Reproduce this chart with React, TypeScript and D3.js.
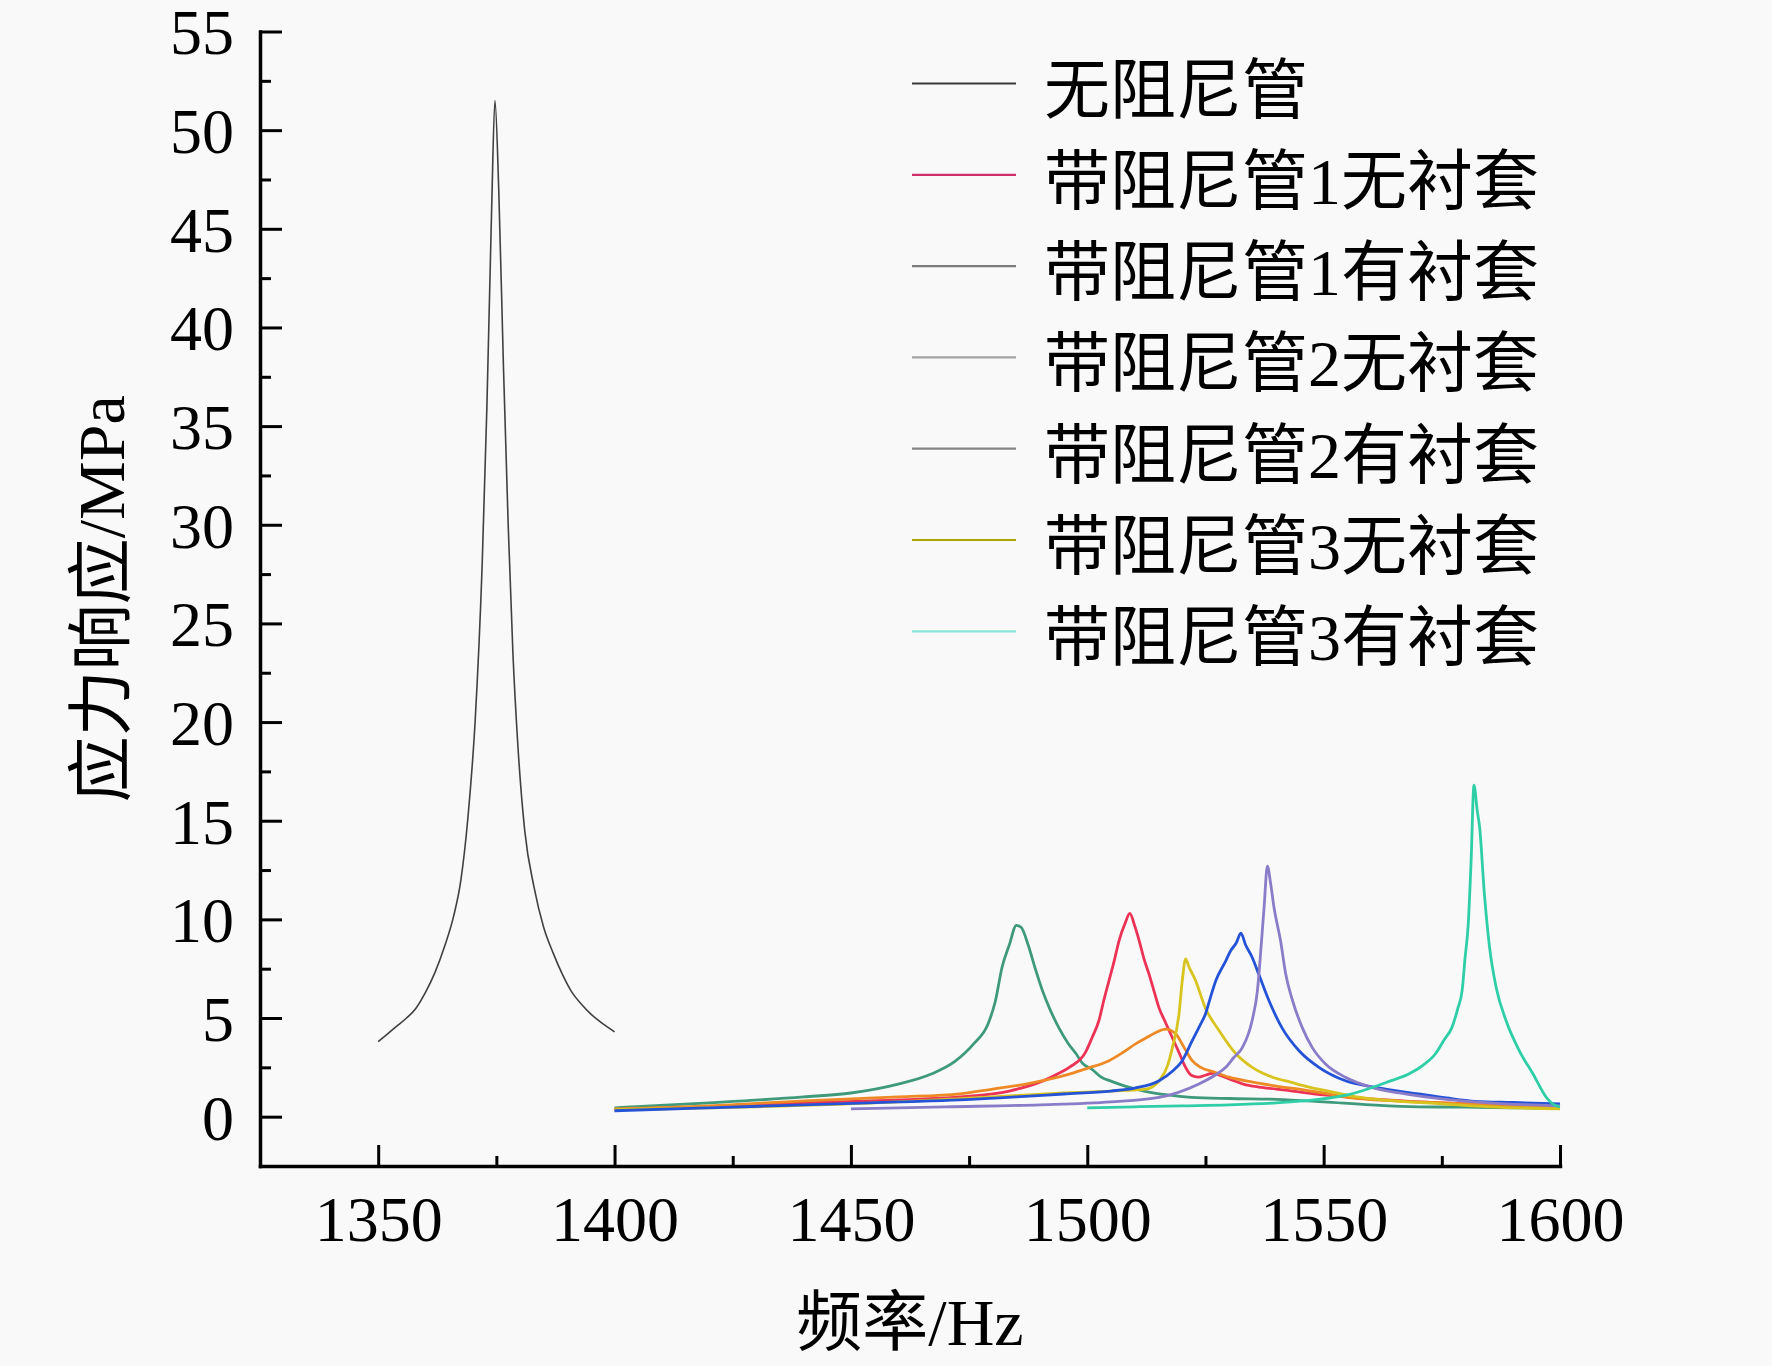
import React, { useEffect, useRef } from 'react';
import * as d3 from 'd3';

type Pt = [number, number];

// frequency (Hz), stress response (MPa)
const noDamper: Pt[] = [
  [1350, 3.8], [1352, 4.2], [1354, 4.6], [1356, 5.0], [1358, 5.5], [1360, 6.3],
  [1362, 7.3], [1364, 8.6], [1366, 10.2], [1367.5, 12.0], [1369, 15.2], [1370.5, 20.0],
  [1372, 28], [1373, 36], [1374, 46], [1374.7, 51.5], [1375.5, 47], [1376.5, 38],
  [1377.5, 30], [1378.5, 23.5], [1379.5, 19], [1381, 14.5], [1383, 11.6], [1385, 9.6],
  [1387, 8.3], [1389, 7.2], [1391, 6.3], [1393, 5.7], [1395, 5.2], [1397, 4.8], [1400, 4.3],
];

const greenCurve: Pt[] = [
  [1400, 0.45], [1420, 0.7], [1440, 1.0], [1450, 1.2], [1460, 1.65], [1467, 2.16],
  [1472, 2.8], [1476, 3.7], [1479, 4.7], [1480.5, 5.8], [1482, 7.6], [1483.5, 8.7],
  [1485, 9.7], [1486, 9.6], [1487.5, 8.7], [1489, 7.5], [1490.5, 6.4], [1492, 5.5],
  [1494, 4.5], [1496, 3.7], [1497.6, 3.2], [1499, 2.7], [1501, 2.4], [1503, 2.0],
  [1505, 1.8], [1508, 1.55], [1512, 1.3], [1517, 1.1], [1522, 0.98], [1530, 0.92],
  [1540, 0.88], [1550, 0.75], [1560, 0.6], [1570, 0.5], [1580, 0.48], [1590, 0.45], [1600, 0.42],
];

const redCurve: Pt[] = [
  [1400, 0.35], [1420, 0.5], [1440, 0.7], [1460, 0.85], [1473, 1.0], [1483.5, 1.3],
  [1490.5, 1.8], [1494, 2.2], [1496.2, 2.5], [1499.7, 3.3], [1501, 4.0], [1502.5, 4.9],
  [1503.5, 5.9], [1504.6, 6.9], [1505.7, 7.9], [1506.7, 8.9], [1508, 9.8], [1509, 10.3],
  [1510, 9.7], [1511, 8.9], [1512, 8.0], [1513.1, 7.2], [1514.2, 6.3], [1515.2, 5.5],
  [1516.5, 4.8], [1518, 4.0], [1519.5, 3.2], [1520.8, 2.5], [1522, 2.1], [1523.5, 2.0],
  [1525, 2.1], [1526.5, 2.2], [1528, 2.1], [1530.7, 1.85], [1533, 1.65], [1536.3, 1.5],
  [1540, 1.4], [1543.4, 1.3], [1550, 1.1], [1560, 0.9], [1570, 0.75], [1580, 0.65],
  [1590, 0.55], [1600, 0.5],
];

const orangeCurve: Pt[] = [
  [1400, 0.4], [1420, 0.55], [1440, 0.8], [1460, 1.0], [1473, 1.16], [1480, 1.4],
  [1487, 1.65], [1492, 1.9], [1496.2, 2.16], [1500, 2.45], [1504.6, 2.84], [1507.5, 3.25],
  [1510.3, 3.7], [1512.5, 4.0], [1514.5, 4.27], [1516.6, 4.44], [1518.7, 4.2], [1520.5, 3.5],
  [1522.2, 2.84], [1524, 2.5], [1527, 2.25], [1530, 2.0], [1535, 1.75], [1540, 1.55],
  [1546, 1.35], [1550, 1.2], [1556, 0.95], [1565, 0.8], [1575, 0.7], [1585, 0.6], [1600, 0.45],
];

const yellowCurve: Pt[] = [
  [1400, 0.35], [1430, 0.5], [1460, 0.75], [1480, 1.0], [1495, 1.2], [1505, 1.3],
  [1512.4, 1.4], [1515.2, 1.82], [1517, 2.6], [1518, 3.5], [1519.4, 5.2], [1520.1, 6.9],
  [1520.8, 8.0], [1521.5, 7.6], [1522.9, 6.9], [1525, 5.5], [1527.9, 4.36], [1531.4, 3.2],
  [1534.9, 2.5], [1539.2, 2.0], [1543, 1.75], [1546.9, 1.5], [1552, 1.25], [1557, 1.0],
  [1565, 0.8], [1575, 0.65], [1585, 0.5], [1600, 0.4],
];

const blueCurve: Pt[] = [
  [1400, 0.3], [1420, 0.45], [1440, 0.6], [1460, 0.75], [1473, 0.85], [1485, 1.0],
  [1495, 1.15], [1505, 1.3], [1510, 1.45], [1515.2, 1.82], [1518, 2.3], [1520.1, 2.84],
  [1522.2, 3.85], [1524, 4.7], [1525, 5.2], [1526, 6.0], [1527.2, 6.9], [1529.3, 7.9],
  [1530.3, 8.4], [1531.5, 8.8], [1532.5, 9.3], [1533.5, 8.7], [1534.9, 8.07], [1536.3, 7.2],
  [1538.4, 5.9], [1541.2, 4.5], [1544.8, 3.34], [1549, 2.5], [1554.6, 1.82], [1561, 1.48],
  [1570.1, 1.15], [1576, 0.95], [1582.1, 0.78], [1590, 0.72], [1600, 0.65],
];

const purpleCurve: Pt[] = [
  [1450, 0.4], [1470, 0.5], [1490, 0.6], [1505, 0.75], [1515.2, 0.98], [1523.6, 1.66],
  [1527, 2.1], [1529.3, 2.5], [1531, 3.0], [1532.8, 3.5], [1534.9, 4.9], [1536, 6.4],
  [1536.7, 8.4], [1537.4, 10.6], [1538.1, 12.7], [1538.8, 11.8], [1539.5, 10.6], [1540.9, 8.9],
  [1542, 7.2], [1543.4, 5.9], [1545.5, 4.5], [1547.6, 3.5], [1550.4, 2.67], [1554.6, 2.0],
  [1560, 1.5], [1566, 1.2], [1575, 0.9], [1585, 0.7], [1600, 0.55],
];

const tealCurve: Pt[] = [
  [1500, 0.45], [1510, 0.5], [1520, 0.55], [1530, 0.6], [1540, 0.7], [1548, 0.85],
  [1555, 1.1], [1560.3, 1.48], [1564, 1.8], [1568, 2.16], [1571, 2.6], [1573.7, 3.2],
  [1575.5, 3.9], [1577.1, 4.5], [1578.4, 5.5], [1579.3, 6.4], [1579.9, 8.0], [1580.6, 9.8],
  [1581.2, 13], [1581.8, 16.8], [1582.5, 15.5], [1583, 14.66], [1584, 11.3], [1585.1, 8.58],
  [1586.5, 6.55], [1588.6, 4.86], [1591.4, 3.34], [1594.3, 2.16], [1597.1, 0.98],
  [1598.5, 0.64], [1600, 0.5],
];

const legendLabels = [
  '无阻尼管',
  '带阻尼管1无衬套',
  '带阻尼管1有衬套',
  '带阻尼管2无衬套',
  '带阻尼管2有衬套',
  '带阻尼管3无衬套',
  '带阻尼管3有衬套',
];
const legendColors = ['#3a3a3a', '#d0306a', '#7c7c7c', '#a4a4a4', '#858585', '#a8a800', '#8ae6da'];

const freqTicks = [1350, 1400, 1450, 1500, 1550, 1600];
const freqMinor = [1375, 1425, 1475, 1525, 1575];
const stressTicks = [0, 5, 10, 15, 20, 25, 30, 35, 40, 45, 50, 55];
const stressMinor = [2.5, 7.5, 12.5, 17.5, 22.5, 27.5, 32.5, 37.5, 42.5, 47.5, 52.5];

const FONT = "'Liberation Serif', 'Times New Roman', 'Noto Sans CJK SC', serif";

export default function App() {
  const ref = useRef<SVGSVGElement>(null);

  useEffect(() => {
    const svgWidth = 1772, svgHeight = 1366;
    const left = 260, right = 1560, top = 31.5, bottom = 1166;

    d3.select(ref.current).selectAll('*').remove();
    const svg = d3.select(ref.current)
      .attr('width', svgWidth)
      .attr('height', svgHeight);

    svg.append('rect').attr('width', svgWidth).attr('height', svgHeight).attr('fill', '#f9f9f9');

    const x = d3.scaleLinear().domain([1325, 1600]).range([left, right]);
    const y = d3.scaleLinear().domain([-2.5, 55]).range([bottom, top]);

    const line = d3.line<Pt>()
      .x(d => x(d[0]))
      .y(d => y(d[1]))
      .curve(d3.curveMonotoneX);

    const curves = [
      { data: greenCurve, color: '#3f9a7c', w: 2.8 },
      { data: redCurve, color: '#ec3356', w: 2.8 },
      { data: orangeCurve, color: '#ee8a26', w: 2.8 },
      { data: yellowCurve, color: '#d8c41e', w: 2.8 },
      { data: blueCurve, color: '#2453d8', w: 2.8 },
      { data: purpleCurve, color: '#8a7cc8', w: 2.8 },
      { data: tealCurve, color: '#2ecfa6', w: 2.8 },
      { data: noDamper, color: '#404040', w: 1.6 },
    ];

    svg.append('g')
      .selectAll('path')
      .data(curves)
      .join('path')
      .attr('fill', 'none')
      .attr('stroke', d => d.color)
      .attr('stroke-width', d => d.w)
      .attr('stroke-linejoin', 'round')
      .attr('d', d => line(d.data));

    // Axes (ticks point inward)
    const xAxis = svg.append('g')
      .attr('transform', `translate(0,${bottom})`)
      .call(d3.axisBottom(x).tickValues(freqTicks).tickFormat(d3.format('d'))
        .tickSizeInner(-21).tickSizeOuter(0).tickPadding(30));
    svg.append('g')
      .attr('transform', `translate(0,${bottom})`)
      .call(d3.axisBottom(x).tickValues(freqMinor).tickSize(-10).tickFormat(() => ''))
      .call(g => g.select('.domain').remove());

    const yAxis = svg.append('g')
      .attr('transform', `translate(${left},0)`)
      .call(d3.axisLeft(y).tickValues(stressTicks).tickFormat(d3.format('d'))
        .tickSizeInner(-22).tickSizeOuter(0).tickPadding(26));
    svg.append('g')
      .attr('transform', `translate(${left},0)`)
      .call(d3.axisLeft(y).tickValues(stressMinor).tickSize(-11).tickFormat(() => ''))
      .call(g => g.select('.domain').remove());

    svg.selectAll('.domain')
      .attr('stroke', '#000')
      .attr('stroke-width', 3.5)
      .attr('stroke-linecap', 'square');
    svg.selectAll('.tick line').attr('stroke', '#000').attr('stroke-width', 3);

    xAxis.selectAll('text')
      .attr('font-family', FONT)
      .attr('font-size', 64)
      .attr('fill', '#000');
    yAxis.selectAll('text')
      .attr('font-family', FONT)
      .attr('font-size', 64)
      .attr('dy', '0.35em')
      .attr('fill', '#000');

    // Axis titles
    svg.append('text')
      .attr('x', (left + right) / 2)
      .attr('y', 1345)
      .attr('text-anchor', 'middle')
      .attr('font-family', FONT)
      .attr('font-size', 66)
      .text('频率/Hz');

    svg.append('text')
      .attr('transform', `translate(124,${(top + bottom) / 2}) rotate(-90)`)
      .attr('text-anchor', 'middle')
      .attr('font-family', FONT)
      .attr('font-size', 66)
      .text('应力响应/MPa');

    // Legend
    const legend = svg.append('g');
    const rowY = (i: number) => 83.5 + i * 91.3;
    legend.selectAll('line')
      .data(legendLabels)
      .join('line')
      .attr('x1', 912)
      .attr('x2', 1016)
      .attr('y1', (_, i) => rowY(i))
      .attr('y2', (_, i) => rowY(i))
      .attr('stroke', (_, i) => legendColors[i])
      .attr('stroke-width', 2.2);
    legend.selectAll('text')
      .data(legendLabels)
      .join('text')
      .attr('x', 1044)
      .attr('y', (_, i) => rowY(i) + 29)
      .attr('font-family', FONT)
      .attr('font-size', 66)
      .attr('fill', '#000')
      .text(d => d);
  }, []);

  return <svg ref={ref} style={{ position: 'absolute', left: 0, top: 0 }} />;
}
